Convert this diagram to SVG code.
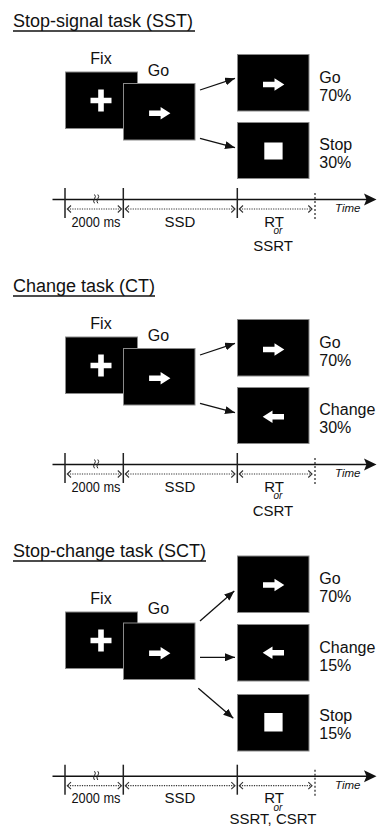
<svg xmlns="http://www.w3.org/2000/svg" xmlns:xlink="http://www.w3.org/1999/xlink" width="378" height="827" viewBox="0 0 378 827">
<style>
text{font-family:"Liberation Sans",Arial,sans-serif;fill:#111}
.title{font-size:18px}
.lab{font-size:16px}
.tl{font-size:15px}
.ms{font-size:14px}
.or{font-size:10px;font-style:italic}
.tm{font-size:11.5px;font-style:italic}
.box{fill:#000;stroke:#8a8a8a;stroke-width:1}
.wh{fill:#fff}
.con{stroke:#111;stroke-width:1.3;fill:none}
.ax{stroke:#111;stroke-width:1.5;fill:none}
.tick{stroke:#222;stroke-width:1.5}
.dv{stroke:#333;stroke-width:1.3;stroke-dasharray:2 2}
.dot{stroke:#333;stroke-width:1.2;stroke-dasharray:1.2 1.2;fill:none}
.chev{stroke:#333;stroke-width:1.1;fill:none}
.ul{stroke:#111;stroke-width:1.3}
</style>
<defs>
<marker id="ah" markerUnits="userSpaceOnUse" markerWidth="10" markerHeight="8" refX="10" refY="4" orient="auto">
<path d="M0,0 L10,4 L0,8 z" fill="#111"/>
</marker>
<path id="rarr" d="M-10.5,-2.7 H1 V-6.3 L10.8,0 L1,6.3 V2.7 H-10.5 Z" fill="#fff"/>
<path id="plus" d="M-2.8,-11 H2.8 V-2.8 H10.5 V2.8 H2.8 V11 H-2.8 V2.8 H-10.5 V-2.8 H-2.8 Z" fill="#fff"/>
<g id="timeline">
<line class="ax" x1="52.5" y1="199.5" x2="367" y2="199.5"/>
<path d="M364,193.5 L376.5,199.5 L364,205.5 L366.5,199.5 Z" fill="#111"/>
<line class="tick" x1="65" y1="188" x2="65" y2="218"/>
<line class="tick" x1="123.3" y1="188" x2="123.3" y2="218"/>
<line class="tick" x1="237.3" y1="188" x2="237.3" y2="218"/>
<line class="dv" x1="315" y1="193" x2="315" y2="219"/>
<path d="M94.5,194.5 q1.8,1.8 0,4.3 q-1.8,2.5 0,4.5 M97.8,194.5 q1.8,1.8 0,4.3 q-1.8,2.5 0,4.5" stroke="#222" stroke-width="1" fill="none"/>
<line class="dot" x1="67.5" y1="209" x2="121" y2="209"/>
<polyline class="chev" points="71,205.5 67.3,209 71,212.5"/>
<polyline class="chev" points="117.8,205.5 121.5,209 117.8,212.5"/>
<line class="dot" x1="125.5" y1="209" x2="234.5" y2="209"/>
<polyline class="chev" points="129,205.5 125.3,209 129,212.5"/>
<polyline class="chev" points="231.3,205.5 235,209 231.3,212.5"/>
<line class="dot" x1="239.5" y1="209" x2="311.5" y2="209"/>
<polyline class="chev" points="243,205.5 239.3,209 243,212.5"/>
<polyline class="chev" points="308.3,205.5 312,209 308.3,212.5"/>
<text class="ms" x="96" y="226.7" text-anchor="middle" textLength="49" lengthAdjust="spacingAndGlyphs">2000 ms</text>
<text class="tl" x="180" y="226.7" text-anchor="middle">SSD</text>
<text class="tl" x="274" y="226.7" text-anchor="middle">RT</text>
<text class="or" x="273.5" y="234">or</text>
<text class="tm" x="335" y="212">Time</text>
</g>
</defs>

<!-- Section titles -->
<g id="title-sst">
<text class="title" x="13" y="26.7">Stop-signal task (SST)</text>
<line class="ul" x1="13" y1="31" x2="195" y2="31"/>
</g>
<g id="title-ct">
<text class="title" x="13" y="291.7">Change task (CT)</text>
<line class="ul" x1="13" y1="296" x2="155" y2="296"/>
</g>
<g id="title-sct">
<text class="title" x="13" y="556.7">Stop-change task (SCT)</text>
<line class="ul" x1="13" y1="561" x2="206" y2="561"/>
</g>

<!-- SST -->
<g id="sst-fix">
<text class="lab" x="101" y="64.3" text-anchor="middle">Fix</text>
<rect class="box" x="65.5" y="72" width="72" height="56.5"/>
<use xlink:href="#plus" x="101" y="100.5"/>
</g>
<g id="sst-go">
<text class="lab" x="158.5" y="76" text-anchor="middle">Go</text>
<rect class="box" x="123.5" y="83.5" width="71.5" height="56.5"/>
<use xlink:href="#rarr" x="159.6" y="113.3"/>
</g>
<g id="sst-go-out">
<rect class="box" x="237.5" y="54.5" width="71.5" height="56.5"/>
<use xlink:href="#rarr" x="273.5" y="84.5"/>
<text class="lab" x="319.3" y="83">Go</text>
<text class="lab" x="319.3" y="101">70%</text>
</g>
<g id="sst-stop-out">
<rect class="box" x="237.5" y="122.5" width="71.5" height="56"/>
<rect class="wh" x="264.3" y="142.5" width="18.3" height="17"/>
<text class="lab" x="319.3" y="150">Stop</text>
<text class="lab" x="319.3" y="168.3">30%</text>
</g>
<g id="sst-timeline">
<use xlink:href="#timeline"/>
<text class="tl" x="273" y="250.7" text-anchor="middle">SSRT</text>
</g>

<!-- CT -->
<g id="ct-fix">
<text class="lab" x="101" y="329.3" text-anchor="middle">Fix</text>
<rect class="box" x="65.5" y="337" width="72" height="56.5"/>
<use xlink:href="#plus" x="101" y="365.5"/>
</g>
<g id="ct-go">
<text class="lab" x="158.5" y="341" text-anchor="middle">Go</text>
<rect class="box" x="123.5" y="348.5" width="71.5" height="56.5"/>
<use xlink:href="#rarr" x="159.6" y="378.3"/>
</g>
<g id="ct-go-out">
<rect class="box" x="237.5" y="319.5" width="71.5" height="56.5"/>
<use xlink:href="#rarr" x="273.5" y="349.5"/>
<text class="lab" x="319.3" y="348">Go</text>
<text class="lab" x="319.3" y="366">70%</text>
</g>
<g id="ct-change-out">
<rect class="box" x="237.5" y="387.5" width="71.5" height="56"/>
<use xlink:href="#rarr" transform="translate(273.5,416.7) scale(-1,1)"/>
<text class="lab" x="319.3" y="415">Change</text>
<text class="lab" x="319.3" y="433.3">30%</text>
</g>
<g id="ct-timeline" transform="translate(0,265)">
<use xlink:href="#timeline"/>
<text class="tl" x="273" y="250.7" text-anchor="middle">CSRT</text>
</g>

<!-- SCT -->
<g id="sct-fix">
<text class="lab" x="101" y="604.3" text-anchor="middle">Fix</text>
<rect class="box" x="65.5" y="612" width="72" height="56.5"/>
<use xlink:href="#plus" x="101" y="640.5"/>
</g>
<g id="sct-go">
<text class="lab" x="158.5" y="613.5" text-anchor="middle">Go</text>
<rect class="box" x="123.5" y="623" width="71.5" height="56.5"/>
<use xlink:href="#rarr" x="159.6" y="653.3"/>
</g>
<g id="sct-go-out">
<rect class="box" x="237.5" y="556" width="71.5" height="56.5"/>
<use xlink:href="#rarr" x="273.5" y="585"/>
<text class="lab" x="319.3" y="584">Go</text>
<text class="lab" x="319.3" y="602">70%</text>
</g>
<g id="sct-change-out">
<rect class="box" x="237.5" y="624.5" width="71.5" height="56.5"/>
<use xlink:href="#rarr" transform="translate(273.5,652.7) scale(-1,1)"/>
<text class="lab" x="319.3" y="653">Change</text>
<text class="lab" x="319.3" y="671">15%</text>
</g>
<g id="sct-stop-out">
<rect class="box" x="237.5" y="694.5" width="71.5" height="56.5"/>
<rect class="wh" x="264.3" y="713" width="18.3" height="18.5"/>
<text class="lab" x="319.3" y="721">Stop</text>
<text class="lab" x="319.3" y="739">15%</text>
</g>
<g id="sct-timeline" transform="translate(0,576.7)">
<use xlink:href="#timeline"/>
<text class="tl" x="273" y="247.8" text-anchor="middle">SSRT, CSRT</text>
</g>

<!-- connectors -->
<g id="connectors">
<line class="con" x1="200" y1="90" x2="235" y2="78.3" marker-end="url(#ah)"/>
<line class="con" x1="200" y1="138.3" x2="235" y2="147.7" marker-end="url(#ah)"/>
<line class="con" x1="200" y1="355" x2="235" y2="343.3" marker-end="url(#ah)"/>
<line class="con" x1="200" y1="403.3" x2="235" y2="412.7" marker-end="url(#ah)"/>
<line class="con" x1="200" y1="621" x2="234.3" y2="591" marker-end="url(#ah)"/>
<line class="con" x1="200" y1="657.3" x2="235" y2="657.3" marker-end="url(#ah)"/>
<line class="con" x1="198.3" y1="688.3" x2="233.3" y2="718.3" marker-end="url(#ah)"/>
</g>
</svg>
